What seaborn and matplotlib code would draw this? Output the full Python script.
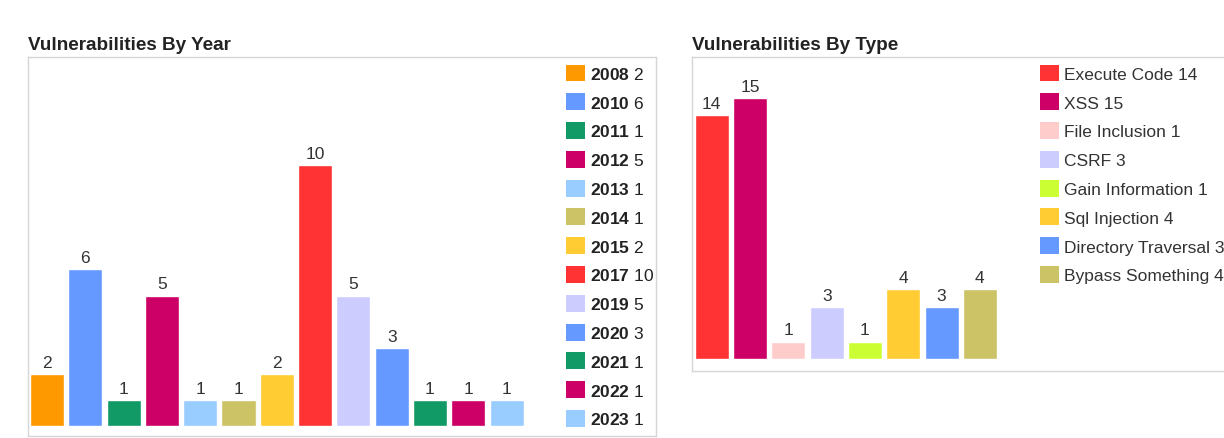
import matplotlib
matplotlib.use("Agg")
import matplotlib.pyplot as plt
import seaborn as sns
import pandas as pd
from matplotlib.patches import Patch

# ---- data ----
years = ["2008", "2010", "2011", "2012", "2013", "2014", "2015",
         "2017", "2019", "2020", "2021", "2022", "2023"]
year_counts = [2, 6, 1, 5, 1, 1, 2, 10, 5, 3, 1, 1, 1]
year_colors = ["#FF9900", "#6699FF", "#119966", "#CC0066", "#99CCFF", "#CCC266",
               "#FFCC33", "#FF3333", "#CCCCFF", "#6699FF", "#119966", "#CC0066", "#99CCFF"]

types = ["Execute Code", "XSS", "File Inclusion", "CSRF", "Gain Information",
         "Sql Injection", "Directory Traversal", "Bypass Something"]
type_counts = [14, 15, 1, 3, 1, 4, 3, 4]
type_colors = ["#FF3333", "#CC0066", "#FFCCCC", "#CCCCFF", "#CCFF33",
               "#FFCC33", "#6699FF", "#CCC266"]

sns.set_style("white")
plt.rcParams["font.family"] = ["Liberation Sans", "DejaVu Sans"]
plt.rcParams["mathtext.fontset"] = "custom"
plt.rcParams["mathtext.rm"] = "Liberation Sans"
plt.rcParams["mathtext.bf"] = "Liberation Sans:bold"

W, H = 1224, 439
fig = plt.figure(figsize=(W / 100, H / 100), dpi=100)
fig.patch.set_facecolor("white")


def px_axes(x0, y0, x1, y1):
    return fig.add_axes([x0 / W, 1 - y1 / H, (x1 - x0) / W, (y1 - y0) / H])


def style_ax(ax):
    ax.set_xticks([])
    ax.set_yticks([])
    ax.set_xlabel("")
    ax.set_ylabel("")
    for s in ax.spines.values():
        s.set_color("#d6d6d6")
        s.set_linewidth(1)
    ax.set_facecolor("white")


slot = 38.3

# ---- left chart ----
axL = px_axes(28, 58, 656, 437)
dfL = pd.DataFrame({"year": years, "count": year_counts})
sns.barplot(data=dfL, x="year", y="count", hue="year",
            palette=dict(zip(years, year_colors)), width=0.89,
            legend=False, ax=axL, saturation=1)
axL.set_xlim((28 - 47) / slot, (656 - 47) / slot)
axL.set_ylim(-10 / 26.1, (427 - 58) / 26.1)
style_ax(axL)
for c in axL.containers:
    axL.bar_label(c, padding=3, fontsize=12.5, color="#333333")

hL = [Patch(facecolor=c, edgecolor="none") for c in year_colors]
lL = [r"$\mathbf{%s}$ %d" % (y, v) for y, v in zip(years, year_counts)]
legL = axL.legend(hL, lL, loc="upper left", bbox_to_anchor=(566 / W, 1 - 65.5 / H),
                  bbox_transform=fig.transFigure, frameon=False, borderpad=0,
                  borderaxespad=0, handlelength=1.12, handleheight=1.12,
                  handletextpad=0.25, labelspacing=0.66, fontsize=12.5)
for t in legL.get_texts():
    t.set_color("#222222")

fig.text(28 / W, 1 - 45 / H, "Vulnerabilities By Year", fontsize=13.6,
         fontweight="bold", color="#222222", va="center", ha="left")

# ---- right chart ----
axR = px_axes(692, 58, 1260, 372)
dfR = pd.DataFrame({"type": types, "count": type_counts})
sns.barplot(data=dfR, x="type", y="count", hue="type",
            palette=dict(zip(types, type_colors)), width=0.89,
            legend=False, ax=axR, saturation=1)
axR.set_xlim((692 - 711.8) / slot, (1260 - 711.8) / slot)
axR.set_ylim(-12 / 17.4, (360 - 58) / 17.4)
style_ax(axR)
for c in axR.containers:
    axR.bar_label(c, padding=3, fontsize=12.5, color="#333333")

hR = [Patch(facecolor=c, edgecolor="none") for c in type_colors]
lR = ["%s %d" % (t, v) for t, v in zip(types, type_counts)]
legR = axR.legend(hR, lR, loc="upper left", bbox_to_anchor=(1040 / W, 1 - 65.5 / H),
                  bbox_transform=fig.transFigure, frameon=False, borderpad=0,
                  borderaxespad=0, handlelength=1.12, handleheight=1.12,
                  handletextpad=0.25, labelspacing=0.66, fontsize=12.5)
for t in legR.get_texts():
    t.set_color("#333333")

fig.text(692 / W, 1 - 45 / H, "Vulnerabilities By Type", fontsize=13.6,
         fontweight="bold", color="#222222", va="center", ha="left")

fig.savefig("out.png", dpi=100, facecolor="white")
